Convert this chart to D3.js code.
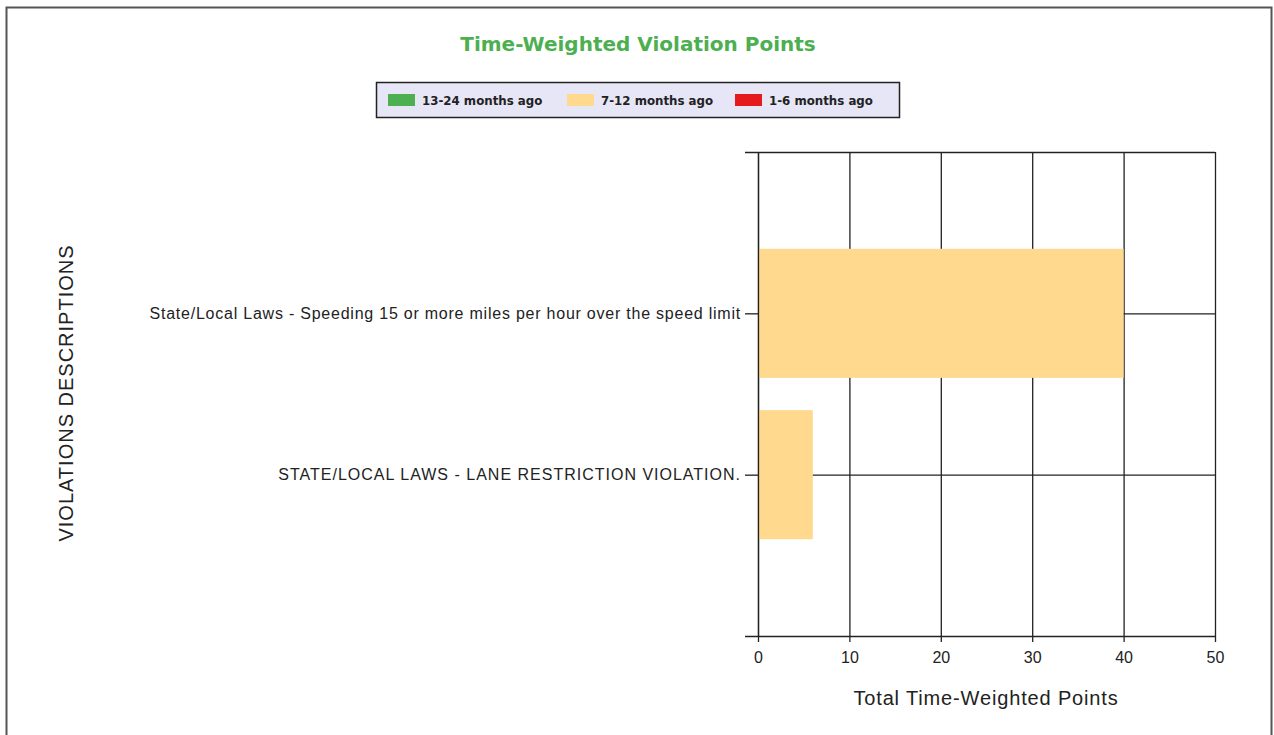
<!DOCTYPE html>
<html>
<head>
<meta charset="utf-8">
<script src="https://cdn.jsdelivr.net/npm/d3@7"></script>
<style>
  html, body { margin: 0; padding: 0; background: #fff; }
  svg { display: block; }
</style>
</head>
<body>
<div id="chart"></div>
<script>
const categories = [
  "State/Local Laws - Speeding 15 or more miles per hour over the speed limit",
  "STATE/LOCAL LAWS - LANE RESTRICTION VIOLATION."
];
const seriesNames = ["13-24 months ago", "7-12 months ago", "1-6 months ago"];
const seriesColors = ["#4caf50", "#fed98e", "#e41a1c"];
const older = [0, 0];
const middle = [40, 6];
const recent = [0, 0];
const xTicks = [0, 10, 20, 30, 40, 50];

const width = 1274;
const height = 735;
const margin = { top: 152, right: 59, bottom: 99, left: 758 };
const labelFont = "'Liberation Sans', Arial, sans-serif";

const svg = d3.select("#chart").append("svg")
  .attr("width", width).attr("height", height);

// outer frame
svg.append("path")
  .attr("d", `M6.5,${height} V7.5 H1271.5 V${height}`)
  .attr("fill", "none").attr("stroke", "#555").attr("stroke-width", 2);

svg.append("text")
  .attr("x", 638).attr("y", 51).attr("text-anchor", "middle")
  .style("font-family", "Tahoma, 'DejaVu Sans', sans-serif")
  .style("font-size", "20px").style("font-weight", "bold")
  .style("fill", "#4caf50")
  .text("Time-Weighted Violation Points");

// legend
const legend = svg.append("g");
legend.append("rect")
  .attr("x", 376.5).attr("y", 82.5).attr("width", 523).attr("height", 35)
  .attr("fill", "#e6e6f7").attr("stroke", "#222").attr("stroke-width", 1.5);
const legendX = [388, 567, 735];
const items = legend.selectAll("g").data(seriesNames).join("g")
  .attr("transform", (d, i) => `translate(${legendX[i]},94)`);
items.append("rect").attr("width", 27).attr("height", 12)
  .attr("fill", (d, i) => seriesColors[i]);
items.append("text").attr("x", 34).attr("y", 11)
  .style("font-family", "Tahoma, 'DejaVu Sans', sans-serif")
  .style("font-size", "11.8px").style("font-weight", "bold").style("fill", "#222")
  .text(d => d);

const x = d3.scaleLinear().domain([0, 50]).range([margin.left, width - margin.right]);
const y = d3.scalePoint().domain(categories).range([margin.top, height - margin.bottom]).padding(1);
const step = y.step();

const rows = categories.map((c, i) => ({
  cat: c,
  [seriesNames[0]]: older[i],
  [seriesNames[1]]: middle[i],
  [seriesNames[2]]: recent[i]
}));
const stacked = d3.stack().keys(seriesNames)(rows);

const plot = svg.append("g");
// vertical grid
plot.selectAll(".vg").data(xTicks).join("line")
  .attr("x1", d => x(d) + 0.5).attr("x2", d => x(d) + 0.5)
  .attr("y1", margin.top).attr("y2", height - margin.bottom)
  .attr("stroke", "#222").attr("stroke-width", 1.3);
// horizontal grid at categories + top frame line
plot.selectAll(".hg").data(categories).join("line")
  .attr("x1", margin.left).attr("x2", width - margin.right)
  .attr("y1", d => y(d) + 0.5).attr("y2", d => y(d) + 0.5)
  .attr("stroke", "#222").attr("stroke-width", 1.3);
plot.append("line")
  .attr("x1", margin.left - 13).attr("x2", width - margin.right)
  .attr("y1", margin.top + 0.5).attr("y2", margin.top + 0.5)
  .attr("stroke", "#222").attr("stroke-width", 1.3);

// bars
const barH = step * 0.8;
plot.selectAll(".series").data(stacked).join("g")
  .attr("fill", (d, i) => seriesColors[i])
  .selectAll("rect").data(d => d).join("rect")
  .attr("x", d => x(d[0]) + 1)
  .attr("y", d => y(d.data.cat) - barH / 2)
  .attr("width", d => Math.max(0, x(d[1]) - x(d[0]) - (d[1] > d[0] ? 1 : 0)))
  .attr("height", barH);

// x axis
const xAxis = svg.append("g")
  .attr("transform", `translate(0,${height - margin.bottom})`)
  .call(d3.axisBottom(x).tickValues(xTicks).tickSize(6).tickPadding(10));
xAxis.select(".domain").attr("d", `M${margin.left - 13},0.5H${width - margin.right}`);
xAxis.selectAll("line, path").attr("stroke", "#222").attr("stroke-width", 1.3);
xAxis.selectAll("text")
  .style("font-family", labelFont)
  .style("font-size", "16px").style("fill", "#222");

// y axis
const yAxis = svg.append("g")
  .attr("transform", `translate(${margin.left},0)`)
  .call(d3.axisLeft(y).tickSize(13).tickPadding(4));
yAxis.select(".domain").attr("d", `M0.5,${margin.top}V${height - margin.bottom}`);
yAxis.selectAll("line, path").attr("stroke", "#222").attr("stroke-width", 1.3);
yAxis.selectAll("text")
  .style("font-family", labelFont)
  .style("font-size", "16px").style("fill", "#222")
  .style("letter-spacing", (d, i) => i === 0 ? "0.77px" : "1px");

svg.append("text")
  .attr("x", 986).attr("y", 705).attr("text-anchor", "middle")
  .style("font-family", labelFont)
  .style("font-size", "20px").style("fill", "#222")
  .style("letter-spacing", "0.85px")
  .text("Total Time-Weighted Points");

svg.append("text")
  .attr("transform", "translate(73,393) rotate(-90)")
  .attr("text-anchor", "middle")
  .style("font-family", labelFont)
  .style("font-size", "20px").style("fill", "#222")
  .style("letter-spacing", "1px")
  .text("VIOLATIONS DESCRIPTIONS");
</script>
</body>
</html>
